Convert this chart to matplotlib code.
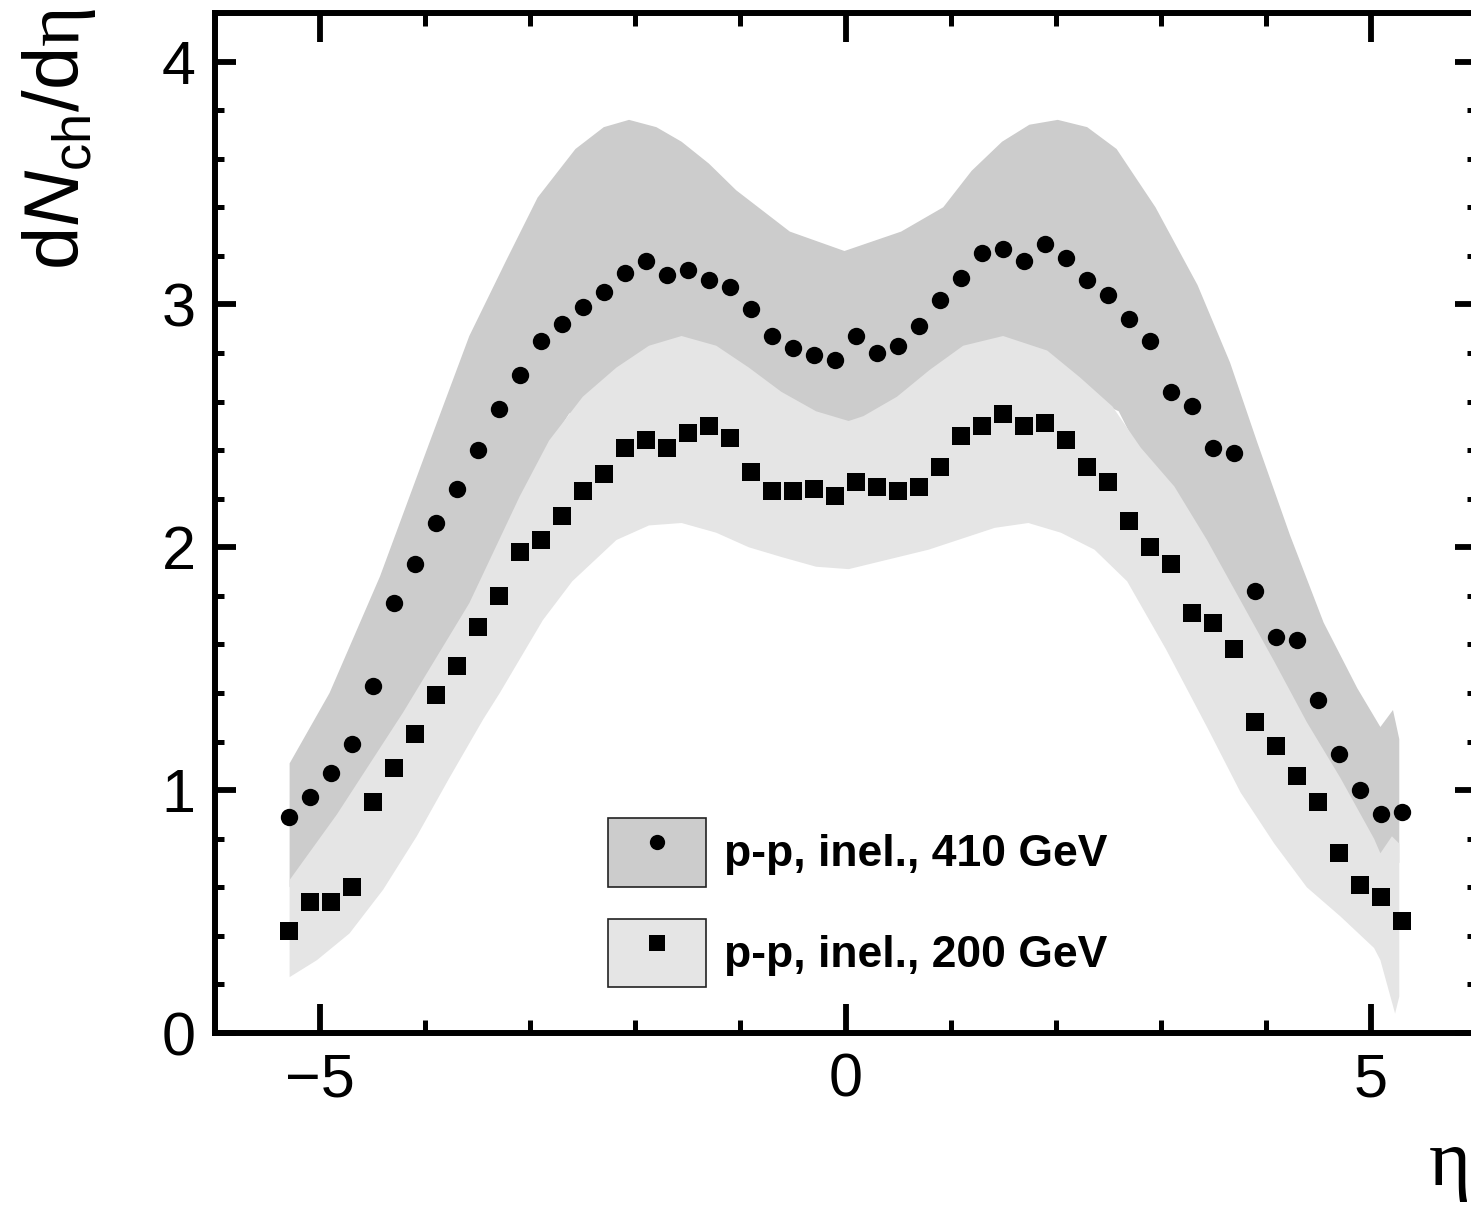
import matplotlib
matplotlib.use("Agg")
import matplotlib.pyplot as plt
import numpy as np
from matplotlib.patches import Patch
from matplotlib.lines import Line2D
from matplotlib.ticker import MultipleLocator

plt.rcParams['font.family'] = ['Liberation Sans', 'DejaVu Sans']
plt.rcParams['mathtext.fontset'] = 'custom'
plt.rcParams['mathtext.rm'] = 'Liberation Sans'
plt.rcParams['mathtext.it'] = 'Liberation Sans:italic'
plt.rcParams['mathtext.sf'] = 'Liberation Serif'

# pseudorapidity bins of the data points
eta = np.round(np.arange(-5.3, 5.31, 0.2), 2)

# dN/deta, p-p inelastic 410 GeV (circles)
dn_410 = [0.89, 0.97, 1.07, 1.19, 1.43, 1.77, 1.93, 2.10, 2.24, 2.40,
          2.57, 2.71, 2.85, 2.92, 2.99, 3.05, 3.13, 3.18, 3.12, 3.14,
          3.10, 3.07, 2.98, 2.87, 2.82, 2.79, 2.77, 2.87, 2.80, 2.83,
          2.91, 3.02, 3.11, 3.21, 3.23, 3.18, 3.25, 3.19, 3.10, 3.04,
          2.94, 2.85, 2.64, 2.58, 2.41, 2.39, 1.82, 1.63, 1.62, 1.37,
          1.15, 1.00, 0.90, 0.91]

# dN/deta, p-p inelastic 200 GeV (squares)
dn_200 = [0.42, 0.54, 0.54, 0.60, 0.95, 1.09, 1.23, 1.39, 1.51, 1.67,
          1.80, 1.98, 2.03, 2.13, 2.23, 2.30, 2.41, 2.44, 2.41, 2.47,
          2.50, 2.45, 2.31, 2.23, 2.23, 2.24, 2.21, 2.27, 2.25, 2.23,
          2.25, 2.33, 2.46, 2.50, 2.55, 2.50, 2.51, 2.44, 2.33, 2.27,
          2.11, 2.00, 1.93, 1.73, 1.69, 1.58, 1.28, 1.18, 1.06, 0.95,
          0.74, 0.61, 0.56, 0.46]

# model band, 410 GeV
band410_up_x = [-5.29, -4.91, -4.43, -3.96, -3.58, -3.23, -2.93, -2.57, -2.30, -2.06,
                -1.80, -1.56, -1.30, -1.04, -0.53, -0.01, 0.53, 0.93, 1.20, 1.49,
                1.75, 2.02, 2.30, 2.58, 2.95, 3.35, 3.66, 3.92, 4.23, 4.55,
                4.87, 5.09, 5.21, 5.27]
band410_up_y = [1.11, 1.40, 1.88, 2.43, 2.87, 3.18, 3.44, 3.64, 3.73, 3.76,
                3.73, 3.67, 3.58, 3.47, 3.30, 3.22, 3.30, 3.40, 3.55, 3.67,
                3.74, 3.76, 3.73, 3.64, 3.40, 3.08, 2.76, 2.43, 2.05, 1.69,
                1.42, 1.26, 1.33, 1.21]
band410_lo_x = [-5.29, -4.84, -4.21, -3.58, -3.10, -2.79, -2.63, -2.30, -1.50, 0.00,
                1.50, 2.30, 2.60, 2.81, 3.13, 3.44, 3.76, 4.08, 4.39, 4.71,
                5.03, 5.27]
band410_lo_y = [0.60, 0.87, 1.29, 1.74, 2.18, 2.44, 2.55, 2.62, 2.60, 2.45,
                2.60, 2.62, 2.56, 2.38, 2.22, 2.00, 1.75, 1.50, 1.25, 1.02,
                0.75, 0.70]

# model band, 200 GeV
band200_up_x = [-5.29, -4.84, -4.21, -3.58, -3.10, -2.82, -2.50, -2.18, -1.87, -1.56,
                -1.23, -0.92, -0.61, -0.28, 0.03, 0.17, 0.49, 0.80, 1.12, 1.50,
                1.92, 2.23, 2.54, 2.81, 3.13, 3.44, 3.76, 4.08, 4.39, 4.71,
                5.03, 5.09, 5.20, 5.27]
band200_up_y = [0.63, 0.90, 1.32, 1.77, 2.21, 2.44, 2.62, 2.74, 2.83, 2.87,
                2.83, 2.74, 2.64, 2.56, 2.52, 2.54, 2.62, 2.73, 2.83, 2.87,
                2.81, 2.70, 2.58, 2.41, 2.25, 2.03, 1.78, 1.53, 1.28, 1.05,
                0.80, 0.74, 0.81, 0.78]
band200_lo_x = [-5.29, -5.03, -4.72, -4.40, -4.08, -3.77, -3.45, -3.29, -2.88, -2.60,
                -2.18, -1.87, -1.56, -1.23, -0.92, -0.61, -0.28, 0.03, 0.79, 1.42,
                1.74, 2.05, 2.37, 2.68, 3.05, 3.44, 3.76, 4.08, 4.39, 4.71,
                5.03, 5.09, 5.23, 5.27]
band200_lo_y = [0.23, 0.30, 0.41, 0.59, 0.81, 1.05, 1.29, 1.40, 1.70, 1.86,
                2.03, 2.09, 2.10, 2.06, 2.00, 1.96, 1.92, 1.91, 1.99, 2.08,
                2.10, 2.06, 1.99, 1.86, 1.58, 1.26, 0.99, 0.78, 0.60, 0.48,
                0.35, 0.30, 0.08, 0.15]

labels = ['p-p, inel., 410 GeV', 'p-p, inel., 200 GeV']
c_dark = '#cccccc'
c_light = '#e5e5e5'


def band(ax, xu, yu, xl, yl, color):
    xs = np.concatenate([xu, xl[::-1]])
    ys = np.concatenate([yu, yl[::-1]])
    ax.fill(xs, ys, color=color, lw=0)


fig = plt.figure(figsize=(14.71, 12.05), dpi=100)
W, H = 1471., 1205.
ax = fig.add_axes([215/W, 1 - 1033/H, (1476 - 215)/W, (1033 - 13)/H])

band(ax, band410_up_x, band410_up_y, band410_lo_x, band410_lo_y, c_dark)
band(ax, band200_up_x, band200_up_y, band200_lo_x, band200_lo_y, c_light)

ax.plot(eta, dn_410, 'o', color='k', ms=12.5, mew=0)
ax.plot(eta, dn_200, 's', color='k', ms=12.5, mew=0)

ax.set_xlim(-6, 6)
ax.set_ylim(0, 4.2)
ax.xaxis.set_major_locator(MultipleLocator(5))
ax.xaxis.set_minor_locator(MultipleLocator(1))
ax.yaxis.set_major_locator(MultipleLocator(1))
ax.yaxis.set_minor_locator(MultipleLocator(0.2))
ax.tick_params(which='both', direction='in', top=True, right=True, labelsize=44)
ax.tick_params(axis='x', which='major', length=21, width=4.2, pad=14)
ax.tick_params(axis='x', which='minor', length=9.5, width=3.6)
ax.tick_params(axis='y', which='major', length=15, width=4.2, pad=14)
ax.tick_params(axis='y', which='minor', length=6.5, width=3.6)
for s in ax.spines.values():
    s.set_linewidth(4.3)
ax.spines['right'].set_clip_on(False)

fig.text(20/W, 1 - 8/H, r'd$N_{\mathrm{ch}}$/d$\mathsf{\eta}$', rotation=90,
         ha='left', va='top', fontsize=56)
fig.text(1429/W, 1 - 1185/H, 'η', family='Liberation Serif', fontsize=58,
         ha='left', va='baseline')

handles = [
    (Patch(facecolor=c_dark, edgecolor='#222222', lw=1.2),
     Line2D([], [], ls='', marker='o', color='k', ms=11, mew=0)),
    (Patch(facecolor=c_light, edgecolor='#222222', lw=1.2),
     Line2D([], [], ls='', marker='s', color='k', ms=11, mew=0)),
]
ax.legend(handles, labels, loc='upper left',
          bbox_to_anchor=((608 - 215)/1261., (1033 - 818)/1020.),
          frameon=False, borderpad=0, borderaxespad=0,
          handlelength=2.2, handleheight=2.0, handletextpad=0.4,
          labelspacing=0.72, prop={'weight': 'bold', 'size': 32})

fig.savefig('out.png', dpi=100)
